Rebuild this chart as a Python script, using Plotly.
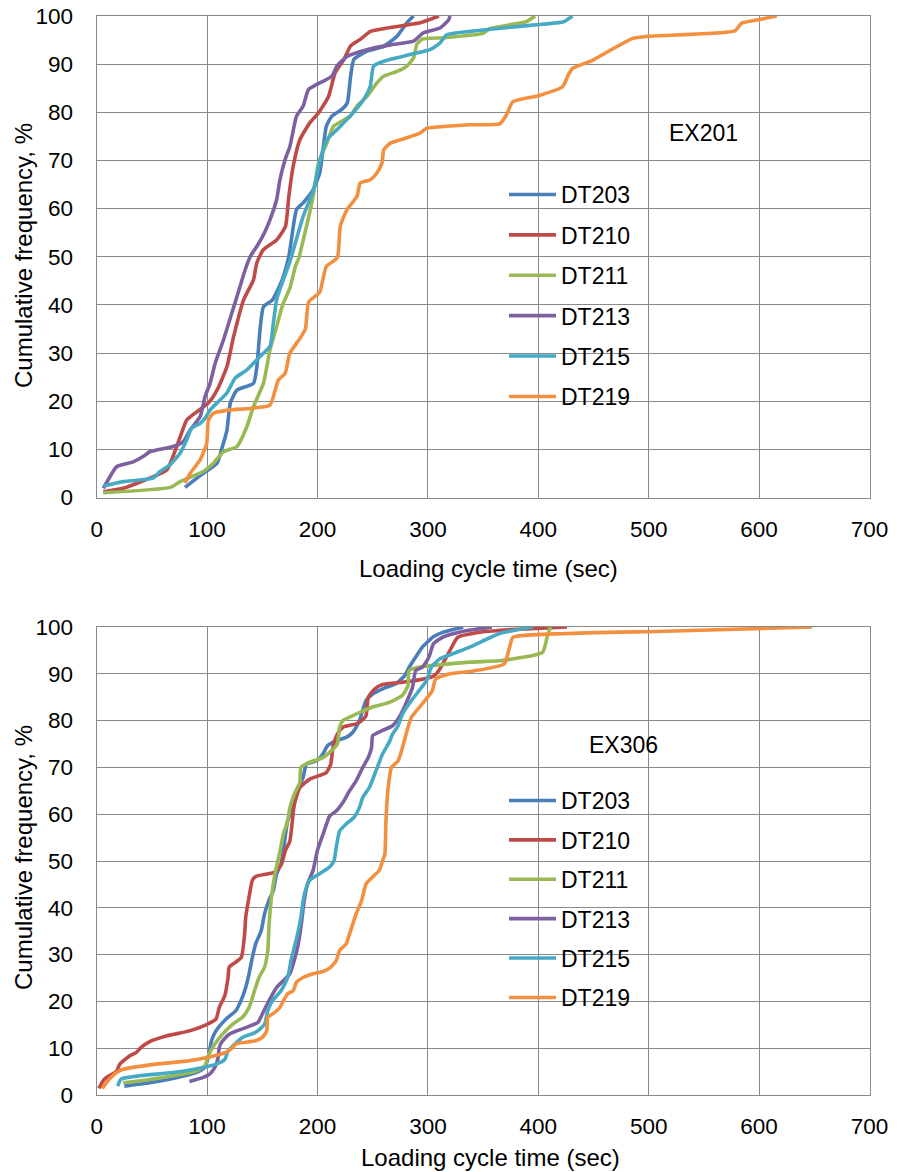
import plotly.graph_objects as go
from plotly.subplots import make_subplots

series_names = ["DT203", "DT210", "DT211", "DT213", "DT215", "DT219"]
series_colors = ["#4A7EBB", "#BE4B48", "#98B954", "#7D60A0", "#46AAC5", "#F29040"]
x_ticks = [0, 100, 200, 300, 400, 500, 600, 700]
y_ticks = [0, 10, 20, 30, 40, 50, 60, 70, 80, 90, 100]

# ---- EX201 ----
ex201_dt203_x = [80, 94, 109, 113, 118, 121, 127, 142, 145, 148, 151, 159, 168, 174, 181, 187, 196, 202, 205, 208, 213, 222, 227, 230, 233, 245, 260, 272, 281, 287]
ex201_dt203_y = [2.1, 4.6, 7.1, 9.9, 14, 19.6, 22.3, 23.7, 27, 35, 39.6, 41, 45.2, 50, 59.8, 61.2, 63.9, 67.4, 72.2, 77.1, 79.2, 80.6, 82, 87.5, 91, 92.7, 93.7, 95.8, 98.6, 100]

ex201_dt210_x = [6, 24, 51, 63.5, 72.5, 81.6, 90.7, 101, 109, 118, 124, 133, 142, 145, 151, 163, 171, 174, 178, 184, 193, 201, 210, 216, 224, 230, 239, 248, 263, 293, 310]
ex201_dt210_y = [1.2, 1.9, 4.3, 5.7, 10.6, 16.1, 17.8, 19.6, 22.3, 27.2, 33.4, 41, 45.2, 48.7, 51.5, 53.5, 56.3, 62.5, 68.8, 74.3, 77.8, 79.9, 83.3, 88.2, 91, 93.8, 95.2, 96.8, 97.5, 98.6, 100]

ex201_dt211_x = [6, 66.5, 75.5, 96.6, 105.7, 114.8, 127, 136, 142, 151, 157, 163, 168, 175, 180, 183, 190, 196, 201, 208.5, 214.5, 229.6, 235.7, 244.8, 253.8, 260, 272, 281, 287, 290, 295, 314, 350, 356, 389, 397]
ex201_dt211_y = [1, 2.1, 3.3, 5.4, 7.1, 9.5, 10.6, 14.7, 18.9, 23.7, 30.7, 35.5, 39.7, 43.5, 48, 49.7, 56.3, 62.5, 69.5, 73.6, 77.1, 79.2, 81.3, 83.3, 86.1, 87.5, 88.5, 89.6, 91.3, 94.1, 95.2, 95.5, 96.4, 97.4, 98.8, 100]

ex201_dt213_x = [6, 12, 18, 33, 42, 48, 69.4, 78.5, 84.6, 93.7, 98.2, 102.7, 107.3, 114.8, 122.4, 127, 134.5, 139, 146, 152, 157, 163, 166, 170.7, 175, 181, 187, 191.8, 199.5, 213, 217.6, 226.7, 244.8, 266, 287, 296, 311, 318.8, 320]
ex201_dt213_y = [1.9, 4.3, 6.4, 7.4, 8.5, 9.5, 10.6, 11.6, 14, 16.8, 21, 23.7, 27.9, 32.7, 38.3, 41.7, 47.3, 50, 52.5, 55, 57.7, 61.9, 66, 70.2, 72.9, 79.2, 81.3, 84.7, 85.8, 87.5, 89.6, 91.6, 93, 94, 94.8, 96.5, 97.5, 99.2, 100]

ex201_dt215_x = [6, 24, 51, 57.4, 66.5, 75.5, 81.6, 86, 93.7, 98.2, 102.7, 108.8, 117.9, 125.4, 136, 148, 157, 160, 163, 169, 175, 187, 196.4, 202.4, 208.5, 217.6, 229.6, 241.7, 247.8, 250.8, 260, 284, 302, 311, 317, 338, 350, 395, 423, 431]
ex201_dt215_y = [2.4, 3.3, 4, 5.4, 6.8, 9.2, 12, 14.4, 15.4, 16.5, 18.2, 19.6, 21.7, 24.8, 26.5, 29.3, 31.4, 36.2, 41.1, 45.2, 49, 58.4, 63.9, 70.2, 74.3, 76.4, 79.2, 82.6, 85.4, 89.6, 90.6, 92, 93, 94.4, 96.1, 96.8, 97.1, 98.1, 98.8, 100]

ex201_dt219_x = [80, 84.6, 93.7, 99.7, 101.2, 105.7, 120.8, 139, 157, 161.6, 164.6, 170.7, 175, 184, 189, 192, 202, 205, 208, 218, 220.6, 226.7, 235.7, 238.7, 247.8, 253.8, 258.4, 260, 266, 281, 293, 299, 317, 338, 365, 371, 377, 401, 422, 427, 431, 449, 485, 500, 578, 584, 599, 616]
ex201_dt219_y = [3, 5, 7.8, 11.3, 16.1, 17.5, 18.2, 18.5, 19.2, 22.3, 24.4, 25.8, 30, 33, 35, 40.6, 42.6, 45.4, 48, 49.8, 56.3, 59.8, 62.5, 65.3, 66, 67.4, 69.5, 72.2, 73.6, 74.7, 75.7, 76.7, 77.1, 77.4, 77.6, 79.4, 82.2, 83.5, 85.3, 87.7, 89.1, 90.8, 95.3, 95.8, 96.9, 98.5, 99.2, 100]

# ---- EX306 ----
ex306_dt203_x = [25, 48, 72, 90, 98, 101, 104, 108, 117, 126, 132, 135, 138, 141, 144, 149, 152, 156, 160, 163, 167, 169, 173, 178, 182, 187, 190, 199, 205, 209, 217, 226, 232, 238, 244, 250, 259, 271, 279, 283, 289, 295, 305, 314, 332]
ex306_dt203_y = [1.9, 2.6, 3.7, 4.8, 5.9, 8, 11.6, 13.7, 16.2, 18, 20.9, 23, 25.9, 29.4, 32.3, 35.1, 38.7, 41.6, 43.7, 47.3, 49.4, 52.1, 58.6, 61.4, 65, 67.9, 70.7, 71.4, 72.9, 74.6, 75.7, 76.4, 77.5, 80, 84.3, 85.7, 86.8, 87.9, 89.6, 91.4, 93.6, 95.7, 97.9, 98.9, 100]

ex306_dt210_x = [2, 7, 18, 21, 30, 36, 40, 48, 63, 84, 99, 108, 111, 116, 119, 120, 126, 131, 134, 135, 138, 141, 144, 161, 167, 171, 175, 179, 184, 193, 208, 212, 214, 218, 223, 235, 240, 244, 246, 252, 259, 277, 292, 305, 310, 320, 327, 338, 350, 380, 426]
ex306_dt210_y = [1.4, 3.4, 5.1, 6.6, 8.4, 9.1, 10.1, 11.4, 12.6, 13.7, 15, 16.2, 18.7, 21.2, 25.1, 27.3, 28.4, 29.4, 34.4, 38, 42.3, 45.9, 46.7, 47.6, 49.1, 52.3, 54.3, 62.1, 65.7, 67.5, 68.9, 70.7, 74.3, 77.1, 78.6, 79.3, 80, 81.1, 85, 86.8, 87.7, 88.2, 88.7, 89.5, 90.7, 95, 97.8, 98.5, 99, 99.5, 100]

ex306_dt211_x = [24, 42, 69, 90, 98, 101, 107, 114, 123, 132, 138, 143, 147, 152, 155, 156, 158, 161, 164, 166, 169, 173, 175, 179, 184, 185, 193, 205, 211, 218, 220, 223, 235, 250, 265, 277, 282, 283, 292, 305, 338, 365, 395, 404, 408, 411]
ex306_dt211_y = [2.6, 3.1, 4.1, 5.1, 6.2, 8.4, 10.9, 13, 15.1, 16.6, 18.7, 22.3, 25.1, 27.3, 30.9, 35.9, 41.6, 46.6, 50, 52, 55.7, 58.6, 61.4, 64.3, 66.8, 70, 71.1, 72.1, 73.2, 75, 78.6, 80, 81.4, 82.9, 83.9, 85.4, 87.5, 90.7, 91.4, 91.8, 92.5, 92.8, 93.9, 94.6, 97.8, 100]

ex306_dt213_x = [84, 96, 102, 107, 110, 111, 113, 120, 135, 146, 150, 156, 163, 169, 175, 178, 182, 185, 188, 191, 196, 200, 205, 211, 217, 223, 229, 235, 241, 246, 249, 250, 259, 268, 274, 280, 286, 289, 295, 301, 305, 314, 330, 358]
ex306_dt213_y = [2.9, 3.7, 4.4, 5.9, 8, 10.1, 11.2, 13, 14.4, 15.5, 17.3, 20.1, 23, 24.4, 25.9, 28, 31.6, 35.9, 41.6, 45.1, 48, 52.3, 55.7, 59.6, 60.7, 62.5, 65, 67.1, 70, 72.1, 74.3, 76.8, 77.9, 78.9, 80.7, 83.6, 87.1, 90.7, 91.4, 93.6, 96.4, 97.9, 99, 100]

ex306_dt215_x = [19, 22, 39, 69, 93, 108, 116, 119, 132, 144, 152, 155, 159, 167, 173, 176, 179, 182, 185, 187, 190, 193, 202, 211, 215, 217, 220, 226, 233, 238, 241, 247, 253, 259, 265, 268, 273, 277, 283, 292, 299, 303, 311, 326, 338, 365, 395]
ex306_dt215_y = [1.9, 3.4, 4.1, 4.8, 5.7, 6.6, 7.6, 9.4, 12.3, 13.4, 15.1, 18, 20.1, 22.3, 25.1, 28.7, 31.6, 34.4, 38, 41.6, 44.4, 45.9, 47.3, 48.7, 50.1, 52.9, 56.4, 57.9, 59.3, 61.4, 63.6, 65.7, 69.3, 72.9, 75.4, 77.1, 78.9, 81.4, 83.6, 86.4, 88.6, 91.4, 93.2, 94.6, 95.7, 98.6, 100]

ex306_dt219_x = [5, 10, 18, 24, 54, 84, 102, 117, 123, 126, 144, 150, 154, 155, 161, 166, 169, 173, 178, 181, 187, 196, 205, 211, 217, 220, 226, 229, 235, 240, 244, 250, 256, 259, 261, 262, 264, 267, 273, 277, 282, 285, 295, 304, 307, 320, 341, 369, 374, 377, 425, 515, 648]
ex306_dt219_y = [1.4, 3, 4.8, 5.5, 6.6, 7.3, 8.1, 9.1, 10.1, 10.9, 11.6, 12.3, 13.7, 16.6, 17.6, 18.7, 20.1, 21.6, 22.3, 24.1, 25.1, 25.9, 26.4, 27.1, 28.7, 30.9, 32.3, 34.4, 38.7, 41.6, 45.1, 46.6, 48, 50.1, 51.4, 58.6, 65.7, 70, 71.4, 74.3, 78.6, 80.7, 83.6, 86.4, 88.9, 90, 90.6, 92.1, 95.7, 97.8, 98.6, 99.1, 100]

panels = [
    ("EX201", 550, 75.7, "legend",
     [(ex201_dt203_x, ex201_dt203_y), (ex201_dt210_x, ex201_dt210_y), (ex201_dt211_x, ex201_dt211_y),
      (ex201_dt213_x, ex201_dt213_y), (ex201_dt215_x, ex201_dt215_y), (ex201_dt219_x, ex201_dt219_y)]),
    ("EX306", 477, 74.8, "legend2",
     [(ex306_dt203_x, ex306_dt203_y), (ex306_dt210_x, ex306_dt210_y), (ex306_dt211_x, ex306_dt211_y),
      (ex306_dt213_x, ex306_dt213_y), (ex306_dt215_x, ex306_dt215_y), (ex306_dt219_x, ex306_dt219_y)]),
]

FONT = "Liberation Sans, Arial, sans-serif"
W, H = 901, 1172
OFF = 0  # page body margin is removed by the post script below


def fx(px):
    return (px - OFF) / W


def fy(py):
    return (H - (py - OFF)) / H


fig = make_subplots(rows=2, cols=1)

for row, (label, lx, ly, legname, data) in enumerate(panels, start=1):
    for i, (xs, ys) in enumerate(data):
        fig.add_trace(go.Scatter(
            x=xs, y=ys, mode="lines", name=series_names[i],
            line=dict(color=series_colors[i], width=3.6, shape="spline", smoothing=0.5),
            legend=legname, legendgroup=f"{legname}_{i}",
        ), row=row, col=1)
    fig.add_annotation(x=lx, y=ly, text=label, showarrow=False,
                       font=dict(size=23, color="black", family=FONT),
                       xref=f"x{'' if row == 1 else row}", yref=f"y{'' if row == 1 else row}")

grid = "#8A8A8A"
axis_common = dict(showgrid=True, gridcolor=grid, gridwidth=1.4, showline=True, linecolor=grid,
                   linewidth=1.4, mirror=True, zeroline=False, ticks="",
                   ticklabeloverflow="allow",
                   tickfont=dict(size=22.5, color="black", family=FONT), automargin=False)

fig.update_xaxes(range=[0, 700], tickvals=x_ticks, domain=[fx(96.7), fx(869.5)],
                 ticklabelstandoff=11, **axis_common)
fig.update_yaxes(range=[0, 100], tickvals=y_ticks, ticklabelstandoff=18, **axis_common)
fig.update_layout(
    yaxis=dict(domain=[fy(497.5), fy(16)]),
    yaxis2=dict(domain=[fy(1095), fy(627)]),
)

# axis titles
for cx, cy, txt, ang in [
    (488, 568, "Loading cycle time (sec)", 0),
    (491, 1157, "Loading cycle time (sec)", 0),
    (23, 256, "Cumulative frequency, %", -90),
    (23, 858, "Cumulative frequency, %", -90),
]:
    fig.add_annotation(x=fx(cx), y=fy(cy), xref="paper", yref="paper", text=txt,
                       showarrow=False, textangle=ang,
                       font=dict(size=24, color="black", family=FONT),
                       xanchor="center", yanchor="middle")

leg_common = dict(font=dict(size=23, color="black", family=FONT), bgcolor="rgba(0,0,0,0)",
                  traceorder="grouped", itemwidth=47,
                  xanchor="left", yanchor="top", borderwidth=0)
fig.update_layout(
    width=W, height=H,
    margin=dict(l=0, r=0, t=0, b=0),
    paper_bgcolor="white", plot_bgcolor="white",
    showlegend=True,
    legend=dict(x=fx(504), y=fy(173), tracegroupgap=7.5, **leg_common),
    legend2=dict(x=fx(504), y=fy(779), tracegroupgap=6.5, **leg_common),
    font=dict(family=FONT, color="black"),
)

fig.write_html("out.html",
               config={"displayModeBar": False},
               post_script="document.body.style.margin='0';document.body.style.overflow='hidden';")
